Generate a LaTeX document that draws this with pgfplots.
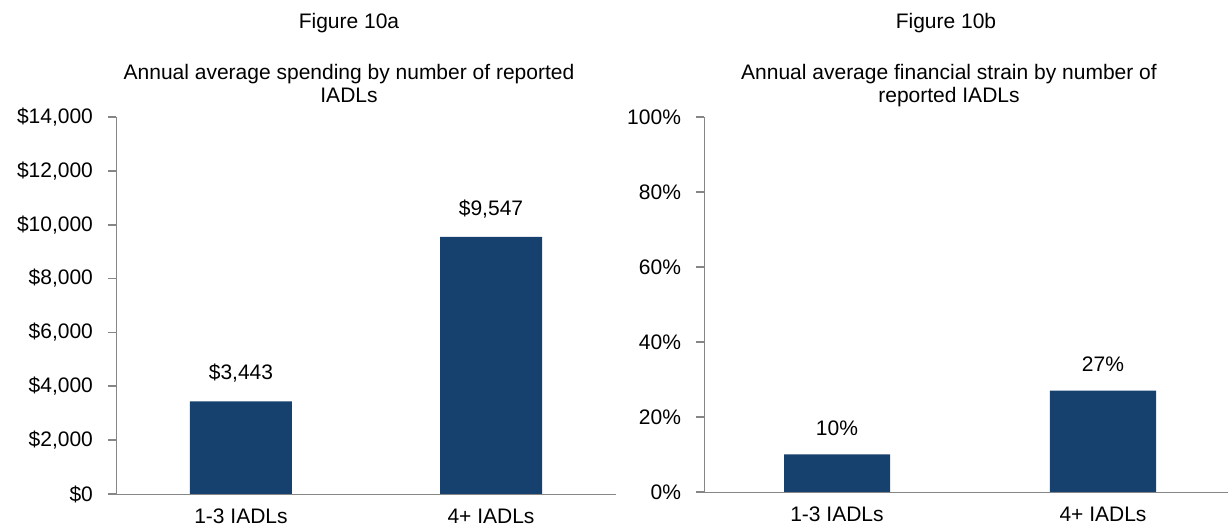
\documentclass[border=0pt]{standalone}
\usepackage{pgfplots}
\pgfplotsset{compat=1.18}
\usepackage{fontspec}
\setmainfont{Liberation Sans}
\definecolor{barblue}{RGB}{22,64,110}
\definecolor{axgray}{RGB}{134,134,134}
\begin{document}
\begin{tikzpicture}
\useasboundingbox (0,0) rectangle (614pt,264.5pt);
\pgfplotsset{
  mybar/.style={
    scale only axis,
    axis x line=bottom, axis y line=left,
    axis line style={axgray,-},
    tick style={axgray, line width=0.8pt},
    tick align=outside,
    major tick length=4pt,
    xmin=-0.5, xmax=1.5,
    xtick={0,1}, xticklabels={1-3 IADLs, 4+ IADLs},
    x tick style={draw=none},
    extra x ticks={-0.5,0.5,1.5},
    extra x tick labels={},
    extra x tick style={tick style={axgray,line width=0.8pt}, major tick length=4pt},
    ymin=0,
    ybar,
    scaled y ticks=false,
    tick label style={font=\fontsize{10.5}{12}\selectfont, black},
    yticklabel style={xshift=-4pt},
    /pgf/number format/assume math mode=true,
    nodes near coords,
    every node near coord/.append style={font=\fontsize{10.5}{12}\selectfont, black, yshift=6pt},
    clip=false,
  }
}
% left
\begin{axis}[mybar, at={(58pt,17.5pt)}, anchor=south west,
  width=250pt, height=188.5pt,
  ymax=14000, ytick={0,2000,...,14000},
  bar width=51pt,
  yticklabel={\$\pgfmathprintnumber[fixed,1000 sep={,}]{\tick}},
  nodes near coords={\$\pgfmathprintnumber[fixed,1000 sep={,}]{\pgfplotspointmeta}},
  ]
\addplot[fill=barblue, draw=none] coordinates {(0,3443) (1,9547)};
\end{axis}
% right
\begin{axis}[mybar, at={(352pt,18.5pt)}, anchor=south west,
  width=266pt, height=187.5pt,
  ymax=100, ytick={0,20,...,100},
  bar width=53pt,
  yticklabel={\pgfmathprintnumber{\tick}\%},
  nodes near coords={\pgfmathprintnumber{\pgfplotspointmeta}\%},
  ]
\addplot[fill=barblue, draw=none] coordinates {(0,10) (1,27)};
\end{axis}
\begin{scope}[x=0.5pt,y=0.5pt,font=\fontsize{10.5}{12}\selectfont]
\node[anchor=base] at (349,500) {Figure 10a};
\node[anchor=base] at (349,449) {Annual average spending by number of reported};
\node[anchor=base] at (349,426) {IADLs};
\node[anchor=base] at (946,500) {Figure 10b};
\node[anchor=base] at (949,449) {Annual average financial strain by number of};
\node[anchor=base] at (949,426) {reported IADLs};
\end{scope}
\end{tikzpicture}
\end{document}
